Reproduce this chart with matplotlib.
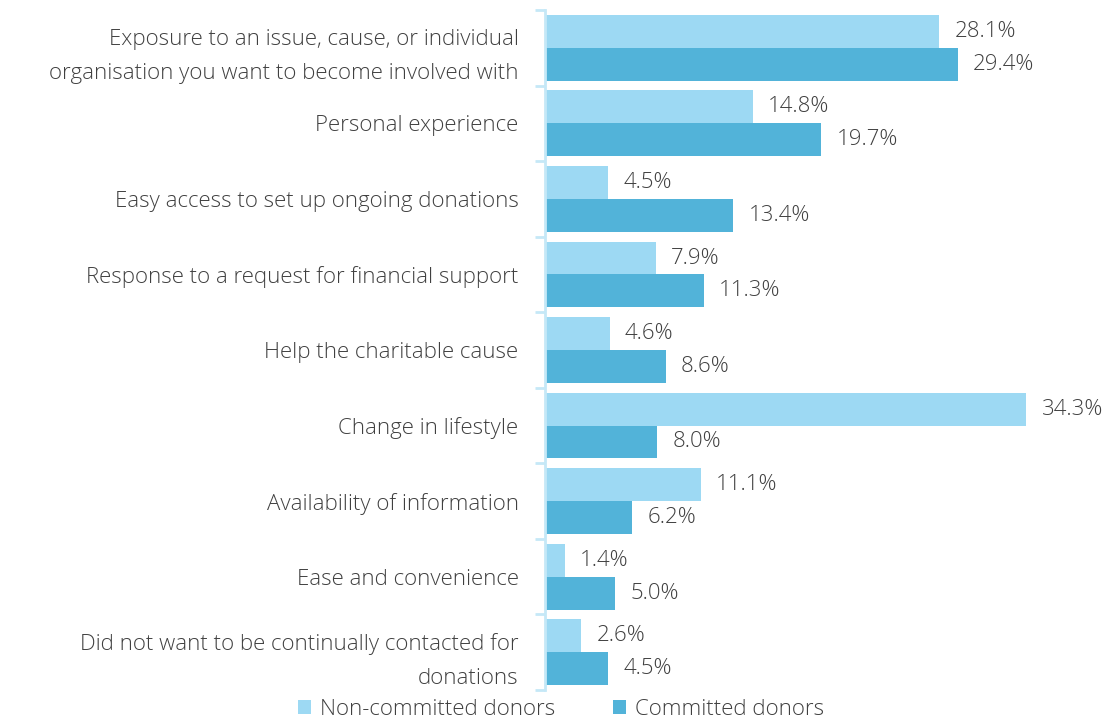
import matplotlib.pyplot as plt
import numpy as np

categories = [
    "Exposure to an issue, cause, or individual\norganisation you want to become involved with",
    "Personal experience",
    "Easy access to set up ongoing donations",
    "Response to a request for financial support",
    "Help the charitable cause",
    "Change in lifestyle",
    "Availability of information",
    "Ease and convenience",
    "Did not want to be continually contacted for\ndonations",
]
non_committed = [28.1, 14.8, 4.5, 7.9, 4.6, 34.3, 11.1, 1.4, 2.6]
committed = [29.4, 19.7, 13.4, 11.3, 8.6, 8.0, 6.2, 5.0, 4.5]

light = '#9dd9f3'
dark = '#52b3d9'
axis_col = '#c5e8f7'
txt = '#404040'

plt.rcParams['font.family'] = ['Open Sans', 'DejaVu Sans']
plt.rcParams['font.weight'] = 'light'

fig = plt.figure(figsize=(11.09, 7.2), dpi=100)
ax = fig.add_axes([0.4914, 0.0417, 0.505, 0.9444])

y = np.arange(len(categories))
h = 0.435
ax.barh(y - h / 2, non_committed, height=h, color=light, label='Non-committed donors')
ax.barh(y + h / 2, committed, height=h, color=dark, label='Committed donors')

fs = 16
for yi, v in zip(y - h / 2, non_committed):
    ax.text(v + 1.1, yi, f'{v:.1f}%', va='center', ha='left', fontsize=fs, color=txt)
for yi, v in zip(y + h / 2, committed):
    ax.text(v + 1.1, yi, f'{v:.1f}%', va='center', ha='left', fontsize=fs, color=txt)

ax.set_ylim(len(categories) - 0.5, -0.5)
ax.set_xlim(0, 39.9)
ax.set_yticks(y)
ax.set_yticklabels(categories, fontsize=fs, color=txt, linespacing=1.8)
ax.tick_params(axis='y', which='major', length=0, pad=19)
ax.set_yticks(np.arange(-0.5, len(categories)), minor=True)
ax.tick_params(axis='y', which='minor', length=7, color=axis_col, width=2)
ax.set_xticks([])
for s in ['top', 'right', 'bottom']:
    ax.spines[s].set_visible(False)
ax.spines['left'].set_color(axis_col)
ax.spines['left'].set_linewidth(2)

fig.legend(loc='lower center', bbox_to_anchor=(0.506, -0.028), ncol=2, frameon=False,
           fontsize=fs, handlelength=0.6, handleheight=0.6, handletextpad=0.4,
           columnspacing=2.6, labelcolor=txt)

fig.savefig('out.png', dpi=100)
